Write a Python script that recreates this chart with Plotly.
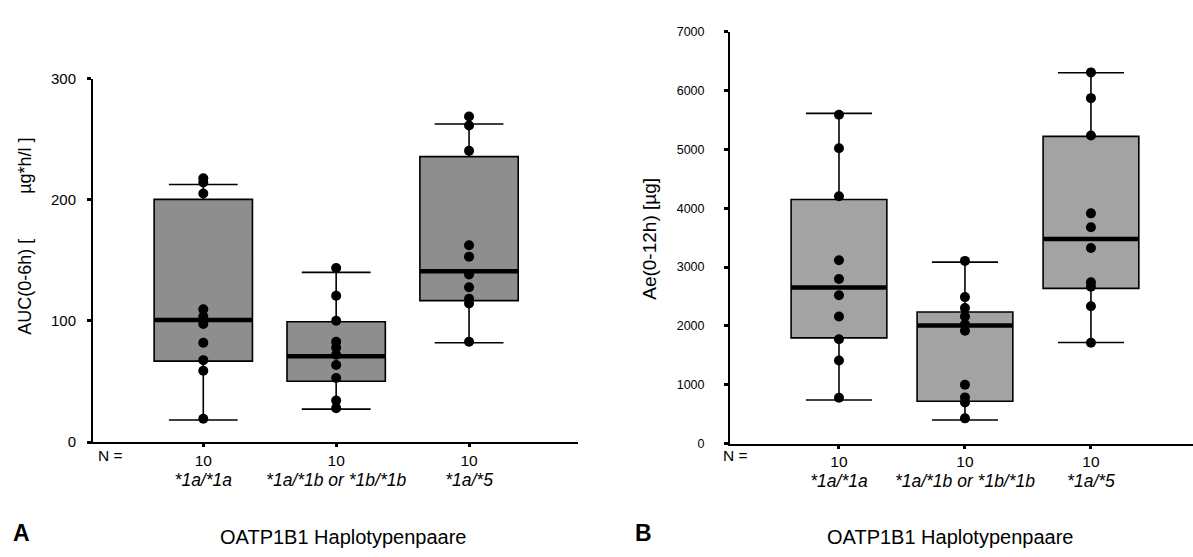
import plotly.graph_objects as go

W, H = 1193, 557

# ---------------- data ----------------
categories = ["*1a/*1a", "*1a/*1b or *1b/*1b", "*1a/*5"]
n_counts = [10, 10, 10]

# Panel A: AUC(0-6h) [µg*h/l]
auc_points = [
    [217.7, 214.2, 205.1, 109.5, 103.6, 97.5, 82.0, 67.6, 58.8, 19.2],
    [143.7, 120.7, 100.1, 82.8, 78.0, 72.1, 63.6, 52.9, 34.2, 28.0],
    [268.7, 261.2, 240.3, 162.4, 153.0, 138.3, 127.7, 118.3, 114.3, 82.8],
]
auc_q1 = [66.8, 50.2, 116.7]
auc_median = [100.7, 70.8, 141.0]
auc_q3 = [200.3, 99.3, 235.5]
auc_lower = [18.2, 27.2, 82.0]
auc_upper = [212.6, 140.0, 262.5]
auc_ticks = [0, 100, 200, 300]

# Panel B: Ae(0-12h) [µg]
ae_points = [
    [5588, 5017, 4204, 3116, 2796, 2522, 2160, 1774, 1411, 780],
    [3104, 2489, 2302, 2160, 2028, 1917, 999, 785, 697, 429],
    [6307, 5869, 5236, 3912, 3676, 3324, 2742, 2664, 2334, 1714],
]
ae_q1 = [1797, 719, 2637]
ae_median = [2654, 2005, 3478]
ae_q3 = [4148, 2236, 5220]
ae_lower = [742, 401, 1719]
ae_upper = [5610, 3083, 6302]
ae_ticks = [0, 1000, 2000, 3000, 4000, 5000, 6000, 7000]

FONT = "Liberation Sans, Arial, sans-serif"

fig = go.Figure()


def add_panel(xa, ya, pts, q1, med, q3, lo, hi, boxw, capw, fill):
    xs = list(range(len(categories)))
    fig.add_trace(go.Box(
        x=xs, q1=q1, median=med, q3=q3, lowerfence=lo, upperfence=hi,
        width=boxw, whiskerwidth=capw, fillcolor=fill,
        line=dict(color="black", width=1.6), boxpoints=False,
        xaxis=xa, yaxis=ya, showlegend=False, hoverinfo="skip"))
    # thick median bars
    mx, my = [], []
    for i, m in enumerate(med):
        mx += [i - boxw / 2, i + boxw / 2, None]
        my += [m, m, None]
    fig.add_trace(go.Scatter(x=mx, y=my, mode="lines",
                             line=dict(color="black", width=4.5),
                             xaxis=xa, yaxis=ya, showlegend=False,
                             hoverinfo="skip"))
    px, py = [], []
    for i, vals in enumerate(pts):
        px += [i] * len(vals)
        py += vals
    fig.add_trace(go.Scatter(x=px, y=py, mode="markers",
                             marker=dict(color="black", size=10),
                             xaxis=xa, yaxis=ya, showlegend=False,
                             hoverinfo="skip", cliponaxis=False))


add_panel("x", "y", auc_points, auc_q1, auc_median, auc_q3, auc_lower,
          auc_upper, 0.74, 0.70, "#8e8e8e")
add_panel("x2", "y2", ae_points, ae_q1, ae_median, ae_q3, ae_lower,
          ae_upper, 0.76, 0.69, "#a3a3a3")

ticktext = [f"{n}<br><span style='font-size:17.5px'><i>{c}</i></span>"
            for n, c in zip(n_counts, categories)]

xcommon = dict(tickvals=[0, 1, 2], ticktext=ticktext, showline=True,
               linecolor="black", linewidth=2, ticks="outside", ticklen=3,
               tickwidth=3, tickcolor="black", showgrid=False, zeroline=False,
               tickfont=dict(family=FONT, size=15.5, color="black"),
               fixedrange=True)
ycommon = dict(showline=True, linecolor="black", linewidth=2,
               ticks="outside", ticklen=4, tickwidth=3, tickcolor="black",
               showgrid=False, zeroline=False, fixedrange=True)

fig.update_layout(
    width=W, height=H, margin=dict(l=0, r=0, t=0, b=0),
    paper_bgcolor="white", plot_bgcolor="white",
    xaxis=dict(domain=[93 / W, 578 / W], range=[-0.83, 2.82],
               anchor="y", **xcommon),
    yaxis=dict(domain=[(H - 446.7) / H, (H - 71.7) / H], range=[0, 300],
               tickvals=auc_ticks, anchor="x", ticklabelstandoff=8,
               tickfont=dict(family=FONT, size=15, color="black"),
               **ycommon),
    xaxis2=dict(domain=[730 / W, 1.0], range=[-0.865, 2.81],
                anchor="y2", **xcommon),
    yaxis2=dict(domain=[(H - 448.3) / H, (H - 23.3) / H], range=[0, 7000],
                tickvals=ae_ticks, anchor="x2", ticklabelstandoff=17,
                tickfont=dict(family=FONT, size=12.5, color="black"),
                **ycommon),
    showlegend=False,
)

nb = "\u00a0"
annots = [
    dict(text="AUC(0-6h) [" + nb * 9 + "µg*h/l ]", x=25 / W, y=(H - 235) / H,
         textangle=-90, font=dict(size=18)),
    dict(text="Ae(0-12h) [µg]", x=650 / W, y=(H - 237) / H,
         textangle=-90, font=dict(size=19)),
    dict(text="N =", x=96 / W, y=(H - 461) / H, xanchor="left",
         font=dict(size=15.5)),
    dict(text="N =", x=721 / W, y=(H - 461) / H, xanchor="left",
         font=dict(size=15.5)),
    dict(text="OATP1B1 Haplotypenpaare", x=343 / W, y=(H - 545) / H,
         font=dict(size=20)),
    dict(text="OATP1B1 Haplotypenpaare", x=950 / W, y=(H - 545) / H,
         font=dict(size=20)),
    dict(text="<b>A</b>", x=21 / W, y=(H - 540) / H, font=dict(size=23)),
    dict(text="<b>B</b>", x=643 / W, y=(H - 540) / H, font=dict(size=23)),
]
for a in annots:
    a.setdefault("xanchor", "center")
    a["font"] = dict(family=FONT, color="black", **a["font"])
    fig.add_annotation(xref="paper", yref="paper", yanchor="middle",
                       showarrow=False, **a)

fig.write_html("out.html")
